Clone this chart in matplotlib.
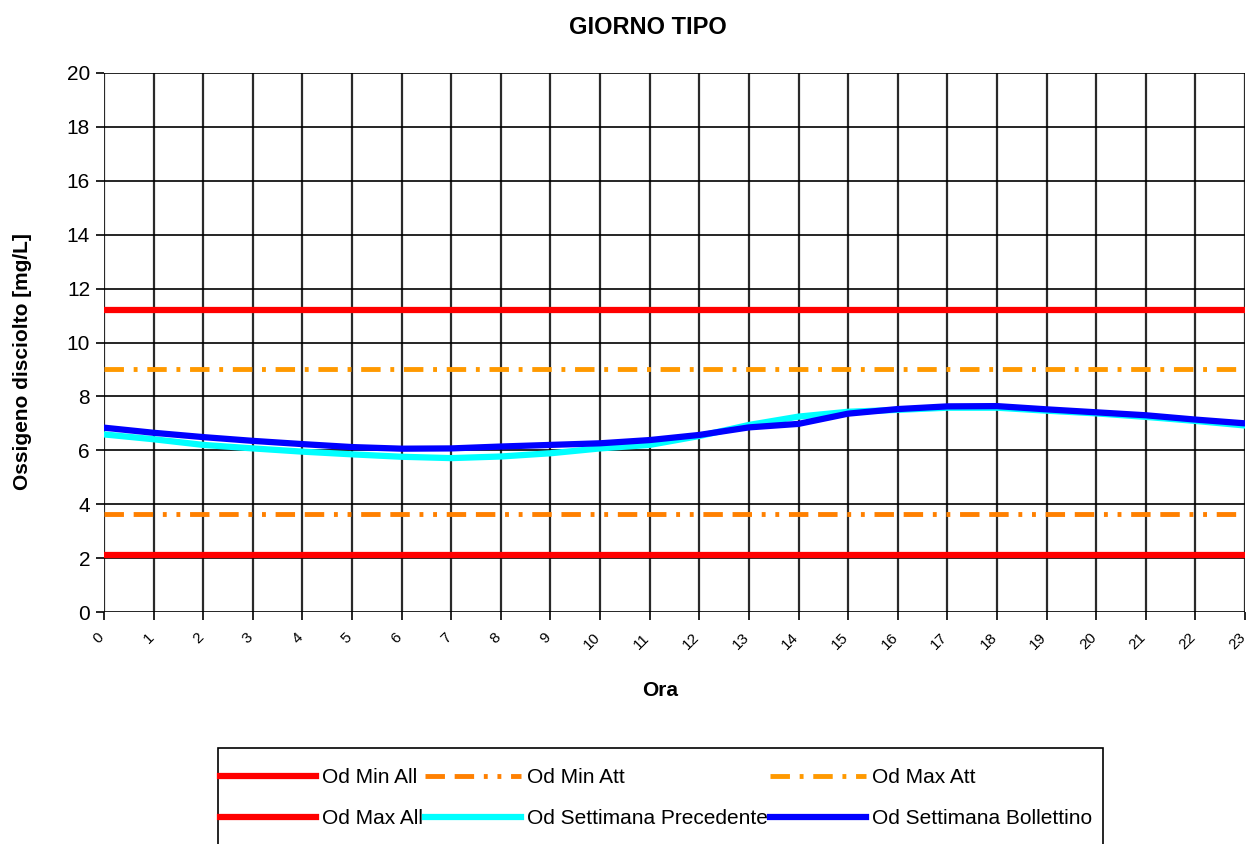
import matplotlib
matplotlib.use("Agg")
import matplotlib.pyplot as plt
import matplotlib.transforms as mtransforms
from matplotlib.patches import Rectangle

plt.rcParams["font.family"] = ["Liberation Sans", "DejaVu Sans"]

hours = list(range(24))
od_settimana_bollettino = [6.84, 6.65, 6.49, 6.35, 6.23, 6.12, 6.06, 6.07, 6.14, 6.20, 6.26, 6.38,
                           6.57, 6.85, 6.98, 7.36, 7.53, 7.63, 7.64, 7.52, 7.41, 7.30, 7.14, 7.00]
od_settimana_precedente = [6.59, 6.41, 6.20, 6.07, 5.95, 5.85, 5.76, 5.71, 5.77, 5.89, 6.07, 6.20,
                           6.53, 6.94, 7.25, 7.43, 7.50, 7.58, 7.58, 7.47, 7.37, 7.24, 7.09, 6.92]
od_min_all = 2.1
od_max_all = 11.2
od_min_att = 3.65
od_max_att = 9.0

W, H = 1250, 844
fig = plt.figure(figsize=(W / 100, H / 100), dpi=100)
ax = fig.add_axes([104 / W, 1 - 612 / H, (1245 - 104) / W, (612 - 73) / H])

ends = [hours[0], hours[-1]]
l_min_all, = ax.plot(ends, [od_min_all] * 2, color="#ff0000", lw=4.5, label="Od Min All")
l_max_all, = ax.plot(ends, [od_max_all] * 2, color="#ff0000", lw=4.5, label="Od Max All")
l_min_att, = ax.plot(ends, [od_min_att] * 2, color="#ff8000", lw=3.5,
                     dashes=(4, 2, 4, 2, 0.8, 2, 0.8, 2), label="Od Min Att")
l_max_att, = ax.plot(ends, [od_max_att] * 2, color="#ff9900", lw=3.5,
                     dashes=(4, 2, 0.8, 2), label="Od Max Att")
l_prec, = ax.plot(hours, od_settimana_precedente, color="#00ffff", lw=4.5, label="Od Settimana Precedente")
l_boll, = ax.plot(hours, od_settimana_bollettino, color="#0000ff", lw=4.5, label="Od Settimana Bollettino")

ax.set_xlim(0, 23)
ax.set_ylim(0, 20)
ax.set_xticks(hours)
ax.set_yticks(range(0, 21, 2))
ax.tick_params(axis="y", labelsize=15, length=6, width=1.2, direction="out", pad=4)
ax.tick_params(axis="x", length=6, width=1.2, direction="out", pad=6)
ax.set_xticklabels([str(h) for h in hours], rotation=45, ha="right", va="top",
                   rotation_mode="anchor", fontsize=11)
shift = mtransforms.ScaledTranslation(-7 / 100, -2 / 100, fig.dpi_scale_trans)
for lbl in ax.xaxis.get_majorticklabels():
    lbl.set_transform(lbl.get_transform() + shift)

for h in hours:
    ax.axvline(h, color="#2a2a2a", lw=1.6, zorder=0)
for y in range(0, 21, 2):
    ax.axhline(y, color="black", lw=1.2, zorder=0)
for side in ax.spines.values():
    side.set_visible(False)

fig.text(648 / W, 1 - 27 / H, "GIORNO TIPO", fontsize=17, fontweight="bold", ha="center", va="center")
fig.text(660 / W, 1 - 690 / H, "Ora", fontsize=15, fontweight="bold", ha="center", va="center")
fig.text(23 / W, 1 - 362 / H, "Ossigeno disciolto [mg/L]", fontsize=15, fontweight="bold",
         rotation=90, ha="center", va="center")

# legend box runs off the bottom edge, as in the source image
fig.patches.append(Rectangle((218 / W, -0.05), (1103 - 218) / W, 0.05 + 1 - 748 / H,
                             transform=fig.transFigure, fill=False, edgecolor="black", lw=1.2))

handles = [l_min_all, l_max_all, l_min_att, l_prec, l_max_att, l_boll]
fig.legend(handles=handles, ncol=3, loc="upper left", bbox_to_anchor=(220 / W, 1 - 768 / H),
           fontsize=15, frameon=False, handlelength=4.6, handletextpad=0.3, columnspacing=0.1,
           borderpad=0, labelspacing=1.05, borderaxespad=0)

fig.savefig("out.png", dpi=100)
